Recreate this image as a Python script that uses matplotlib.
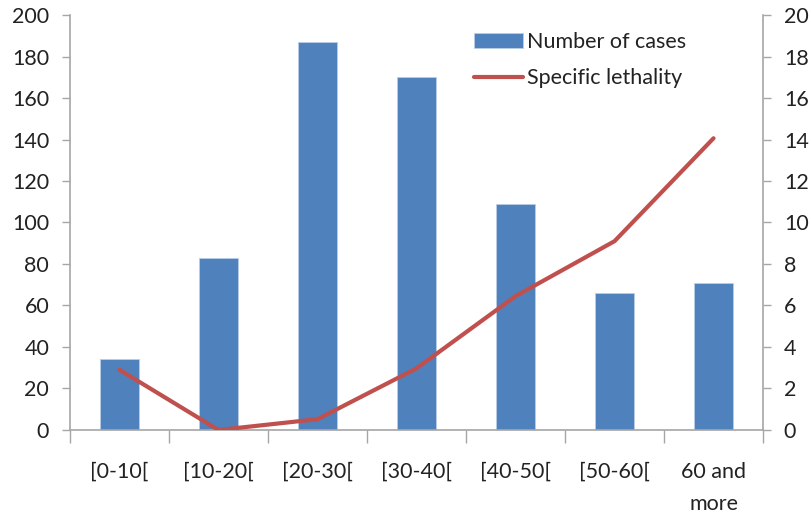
import matplotlib
matplotlib.use("Agg")
import matplotlib.pyplot as plt
import numpy as np
from matplotlib.ticker import FixedLocator, NullFormatter

plt.rcParams['font.family'] = ['Lato', 'DejaVu Sans']

categories = ["[0-10[", "[10-20[", "[20-30[", "[30-40[", "[40-50[", "[50-60[", "60 and\nmore"]
cases = [34, 83, 187, 170, 109, 66, 71]
lethality = [2.9, 0.0, 0.52, 2.97, 6.45, 9.1, 14.06]

blue = "#4F81BD"
red = "#C0504D"
gray = "#A6A6A6"
fs = 15.5

fig = plt.figure(figsize=(8.12, 5.16), dpi=100)
ax = fig.add_axes([0.0862, 0.1667, 0.8535, 0.8042])
ax2 = ax.twinx()

x = np.arange(len(categories))
bars = ax.bar(x, cases, width=0.4, color=blue, edgecolor="#B9CDE5", linewidth=0.6,
              label="Number of cases", zorder=2)
ln, = ax2.plot(x, lethality, color=red, linewidth=3.0, solid_capstyle='round',
               label="Specific lethality", zorder=3)

ax.set_xlim(-0.5, len(categories) - 0.5)
ax.set_ylim(0, 200)
ax2.set_ylim(0, 20)
ax.set_yticks(np.arange(0, 201, 20))
ax2.set_yticks(np.arange(0, 21, 2))

# x ticks at category boundaries, labels centered
ax.xaxis.set_major_locator(FixedLocator(np.arange(-0.5, len(categories), 1.0)))
ax.xaxis.set_major_formatter(NullFormatter())
ax.xaxis.set_minor_locator(FixedLocator(x))
ax.set_xticklabels(categories, minor=True)
ax.tick_params(axis='x', which='minor', length=0, pad=23, labelsize=fs, labelcolor="#222222")
ax.tick_params(axis='x', which='major', length=9, width=1, color=gray, direction='out')
for lab in ax.get_xticklabels(minor=True):
    lab.set_linespacing(1.75)

ax.tick_params(axis='y', length=6, width=1, color=gray, labelsize=fs, labelcolor="#222222", pad=9)
ax2.tick_params(axis='y', length=6, width=1, color=gray, labelsize=fs, labelcolor="#222222", pad=9)

for a in (ax, ax2):
    a.spines['top'].set_visible(False)
    for s in ('left', 'right', 'bottom'):
        a.spines[s].set_color(gray)
        a.spines[s].set_linewidth(1.2)
ax.spines['right'].set_visible(False)
ax2.spines['left'].set_visible(False)
ax2.spines['bottom'].set_visible(False)

leg = ax.legend([bars, ln], ["Number of cases", "Specific lethality"],
                loc='upper left', bbox_to_anchor=(0.561, 0.995), frameon=False,
                fontsize=fs, handlelength=2.3, handletextpad=0.15, labelspacing=0.75,
                borderaxespad=0.3)
for t in leg.get_texts():
    t.set_color("#222222")

fig.savefig("out.png", dpi=100)
